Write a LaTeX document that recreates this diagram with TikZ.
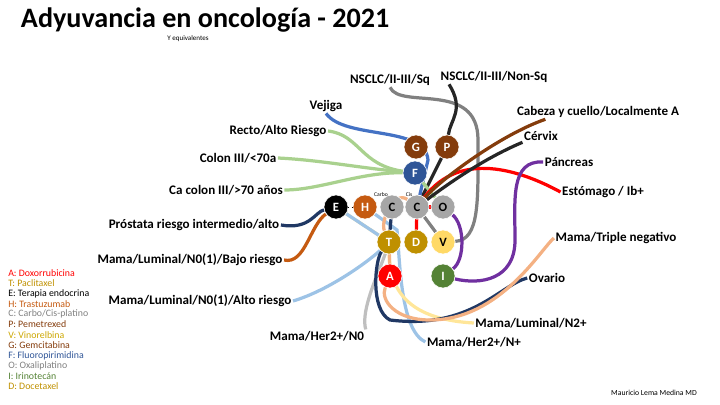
\documentclass[tikz,border=0pt]{standalone}
\usepackage{fontspec}
\setmainfont{Carlito}
\usetikzlibrary{backgrounds}
\definecolor{drugbrown}{HTML}{843C0C}
\definecolor{drugblue}{HTML}{2F5597}
\definecolor{drugorange}{HTML}{C55A11}
\definecolor{druggray}{HTML}{A6A6A6}
\definecolor{druggold}{HTML}{BF9000}
\definecolor{drugyellow}{HTML}{FFD966}
\definecolor{druggreen}{HTML}{548235}
\definecolor{lgreen}{HTML}{A9D18E}
\definecolor{navy}{HTML}{203864}
\definecolor{lblue}{HTML}{9DC3E6}
\definecolor{peach}{HTML}{F4B183}
\definecolor{purp}{HTML}{7030A0}
\definecolor{mblue}{HTML}{4472C4}
\definecolor{lyellow}{HTML}{FFE699}
\begin{document}
\begin{tikzpicture}[
            x = 0.025cm, y = -0.025cm, % pixel grid
            drug/.style = {shape=circle, draw=white, thin, minimum size=0.6cm, inner sep=0pt, text=white, font=\bfseries\small},
            cancer/.style = {font=\bfseries\fontsize{9.3}{11}\selectfont, inner sep=1pt},
            legend/.style = {font=\fontsize{7}{8}\selectfont, anchor=west, inner sep=0pt},
            link/.style = {line width=2.3pt}
        ]
\useasboundingbox (0,0) rectangle (720,405);

\node[font=\bfseries\fontsize{20}{22}\selectfont, anchor=west] (title) at (16,20) {Adyuvancia en oncología - 2021};
\node[font=\fontsize{5}{6}\selectfont] (equiv) at (188,39) {Y equivalentes};

% drugs
\node[drug, fill=drugbrown] (G) at (416,147) {G};
\node[drug, fill=drugbrown] (P) at (447,147) {P};
\node[drug, fill=drugblue] (F) at (415,173) {F};
\node[drug, fill=black] (E) at (336,207) {E};
\node[drug, fill=drugorange] (H) at (365,207) {H};
\node[drug, fill=druggray, text=black] (C1) at (392,207) {C};
\node[drug, fill=druggray, text=black] (C2) at (417,207) {C};
\node[drug, fill=druggray, text=black] (O) at (443,207) {O};
\node[drug, fill=druggold] (T) at (389,242) {T};
\node[drug, fill=druggold] (D) at (416,242) {D};
\node[drug, fill=drugyellow, text=black] (V) at (443,242) {V};
\node[drug, fill=red] (A) at (390,276) {A};
\node[drug, fill=druggreen] (I) at (443,276) {I};
\node[font=\fontsize{4}{5}\selectfont] (carbo) at (381,195) {Carbo};
\node[font=\fontsize{4}{5}\selectfont] (cis) at (409,195) {Cis};
\draw[dotted] (E) -- (H);

% cancers
\node[cancer] (sq) at (390,80) {NSCLC/II-III/Sq};
\node[cancer] (nonsq) at (494,77) {NSCLC/II-III/Non-Sq};
\node[cancer] (vejiga) at (326,106) {Vejiga};
\node[cancer] (recto) at (278,131) {Recto/Alto Riesgo};
\node[cancer] (cabeza) at (598,112) {Cabeza y cuello/Localmente A};
\node[cancer] (cervix) at (541,136) {Cérvix};
\node[cancer] (colon) at (238,158) {Colon III/<70a};
\node[cancer] (pancreas) at (569,162) {Páncreas};
\node[cancer] (estomago) at (603,192) {Estómago / Ib+};
\node[cancer] (colon70) at (226,190) {Ca colon III/>70 años};
\node[cancer] (prostata) at (194,225) {Próstata riesgo intermedio/alto};
\node[cancer] (triple) at (616,238) {Mama/Triple negativo};
\node[cancer] (bajo) at (190,260) {Mama/Luminal/N0(1)/Bajo riesgo};
\node[cancer] (ovario) at (547,278) {Ovario};
\node[cancer] (alto) at (200,301) {Mama/Luminal/N0(1)/Alto riesgo};
\node[cancer] (ntwo) at (531,323) {Mama/Luminal/N2+};
\node[cancer] (hertwo) at (317,336) {Mama/Her2+/N0};
\node[cancer] (hernp) at (474,342) {Mama/Her2+/N+};
\node[font=\fontsize{5.5}{6}\selectfont] (author) at (654,393) {Mauricio Lema Medina MD};

% legend
\node[legend, text=red] (lA) at (8,273) {A: Doxorrubicina};
\node[legend, text=druggold] (lT) at (8,283.3) {T: Paclitaxel};
\node[legend, text=black] (lE) at (8,293.6) {E: Terapia endocrina};
\node[legend, text=drugorange] (lH) at (8,303.9) {H: Trastuzumab};
\node[legend, text=gray] (lC) at (8,314.2) {C: Carbo/Cis-platino};
\node[legend, text=drugbrown] (lP) at (8,324.5) {P: Pemetrexed};
\node[legend, text=druggold!80!yellow] (lV) at (8,334.8) {V: Vinorelbina};
\node[legend, text=drugbrown] (lG) at (8,345.1) {G: Gemcitabina};
\node[legend, text=drugblue] (lF) at (8,355.4) {F: Fluoropirimidina};
\node[legend, text=gray] (lO) at (8,365.7) {O: Oxaliplatino};
\node[legend, text=druggreen] (lI) at (8,376) {I: Irinotecán};
\node[legend, text=druggold] (lD) at (8,386.3) {D: Docetaxel};

\begin{pgfonlayer}{background}
\draw[link, gray] (sq.south) .. controls (400,110) and (478,80) .. (478,140) .. controls (478,200) and (480,240) .. (V);
\draw[link, gray] (C2) -- (V);
\draw[link, black!85] (nonsq.south west) ++(10,0) .. controls (465,110) and (450,120) .. (P);
\draw[link, black!85] (P) -- (C2);
\draw[link, mblue] (vejiga.south) .. controls (345,140) and (425,125) .. (428,160) -- (C2);
\draw[link, lgreen] (recto.east) .. controls (360,135) and (360,165) .. (F);
\draw[link, lgreen] (colon.east) .. controls (320,160) and (360,168) .. (F);
\draw[link, lgreen] (colon70.east) .. controls (320,190) and (360,172) .. (F);
\draw[link, lgreen] (F) -- (O);
\draw[link, navy] (prostata.east) .. controls (310,230) and (315,212) .. (E);
\draw[link, drugorange] (bajo.east) .. controls (305,265) and (310,225) .. (E);
\draw[link, lblue] (alto.east) .. controls (330,290) and (370,260) .. (T);
\draw[link, lyellow] (E) -- (T);
\draw[link, lblue] (E) -- (T);
\draw[link, black!25] (hertwo.north east) .. controls (360,310) and (380,270) .. (T);
\draw[link, lblue] (hernp.west) .. controls (400,330) and (400,260) .. (397,230) -- (H);
\draw[link, lyellow] (ntwo.west) .. controls (420,320) and (390,300) .. (T);
\draw[link, navy] (ovario.west) .. controls (500,285) and (470,330) .. (390,320) .. controls (370,310) and (375,260) .. (T);
\draw[link, navy] (T) -- (C1);
\draw[link, peach] (triple.west) .. controls (540,250) and (500,320) .. (430,320) .. controls (395,320) and (380,300) .. (A);
\draw[link, peach] (A) -- (T);
\draw[link, peach] (T) .. controls (380,220) and (395,190) .. (C2);
\draw[link, red] (estomago.west) .. controls (520,170) and (460,150) .. (C2);
\draw[link, red] (C2) -- (D);
\draw[link, red] (O) -- (C2);
\draw[link, purp] (pancreas.west) .. controls (510,160) and (515,200) .. (515,240) .. controls (515,280) and (480,285) .. (I);
\draw[link, purp] (O) .. controls (465,225) and (465,260) .. (I);
\draw[link, black!85] (cervix.south west) .. controls (480,160) and (440,190) .. (C2);
\draw[link, drugbrown] (cabeza.south west) ++(30,0) .. controls (500,135) and (440,180) .. (C2);
\end{pgfonlayer}
\end{tikzpicture}
\end{document}
